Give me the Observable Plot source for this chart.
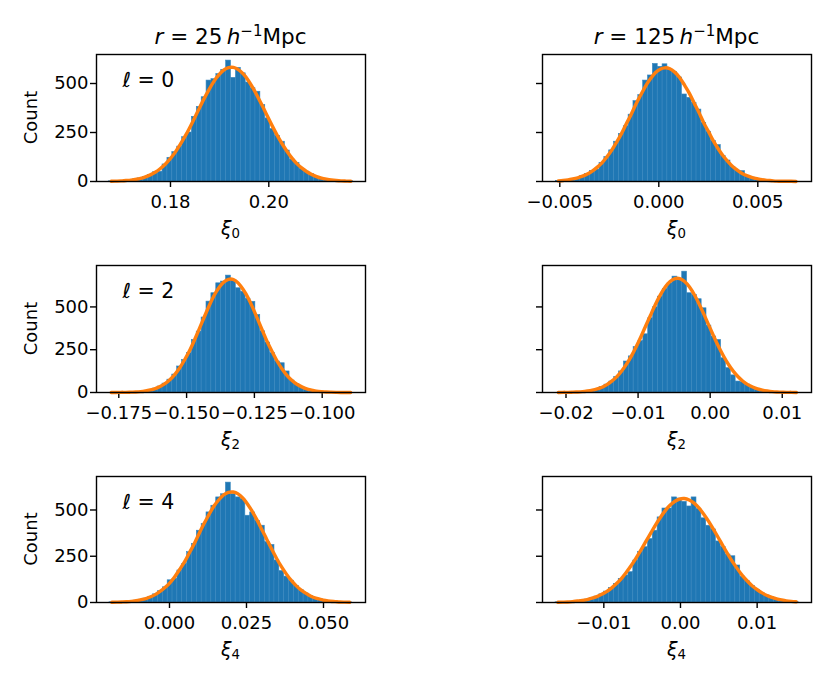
<!DOCTYPE html>
<html><head><meta charset="utf-8">
<script src="https://cdn.jsdelivr.net/npm/d3@7"></script>
<script src="https://cdn.jsdelivr.net/npm/@observablehq/plot@0.6"></script>
<style>
html,body{margin:0;padding:0;background:#fff;}
#wrap{position:relative;width:831px;height:687px;overflow:hidden;font-family:"DejaVu Sans",sans-serif;}
#wrap svg{position:absolute;left:0;top:0;}
#wrap g[aria-label$="tick"] path{stroke-width:1.4px;}
</style></head><body><div id="wrap"></div>
<script>
const W = 831, H = 687;

// column titles (separation r in h^-1 Mpc) and multipoles
const separations = ["25", "125"];
const multipoles = ["0", "2", "4"];
const yLabel = "Count";
const yTicks = [0, 250, 500];

// tick values per panel
const xTicks25_0 = [0.18, 0.20];
const xTicks125_0 = [-0.005, 0.000, 0.005];
const xTicks25_2 = [-0.175, -0.150, -0.125, -0.100];
const xTicks125_2 = [-0.02, -0.01, 0.00, 0.01];
const xTicks25_4 = [0.000, 0.025, 0.050];
const xTicks125_4 = [-0.01, 0.00, 0.01];

// histogram bins: first bin edge, bin width, counts (50 bins)
const binStart25_0 = 0.16744, binWidth25_0 = 0.000995;
const counts25_0 = [1,2,3,5,7,11,16,24,34,47,50,87,121,150,178,226,250,330,381,430,515,522,548,570,617,529,580,552,505,476,458,390,322,268,233,203,158,112,94,64,50,38,22,17,12,8,5,3,2,1];
const fit25_0 = [1,2,3,5,7,11,16,24,34,47,65,87,114,146,184,226,272,322,373,423,469,511,544,568,581,582,571,549,517,476,430,381,330,280,233,190,152,118,90,68,50,36,25,17,12,8,5,3,2,1];

const binStart125_0 = -0.0052, binWidth125_0 = 0.000245;
const counts125_0 = [3,5,8,13,19,27,38,53,61,95,125,159,203,243,282,341,410,441,515,541,600,585,598,575,558,531,444,427,401,367,299,254,206,186,130,107,75,56,53,29,20,14,9,6,4,2,1,1,1,0];
const fit125_0 = [3,5,8,13,19,27,38,53,72,95,125,159,200,243,293,341,394,441,487,524,555,573,580,575,558,531,493,451,401,352,299,253,206,166,130,101,75,56,40,29,20,14,9,6,4,2,1,1,1,0];

const binStart25_2 = -0.1787, binWidth25_2 = 0.001802;
const counts25_2 = [0,0,1,1,2,3,5,9,15,23,35,52,75,105,152,190,230,307,356,438,531,580,638,648,683,657,609,589,548,530,453,358,292,230,181,171,123,70,48,33,21,14,8,5,3,2,1,0,0,0];
const fit25_2 = [0,0,1,1,2,3,5,9,15,23,35,52,75,105,143,190,242,304,370,438,504,564,610,644,661,660,639,602,554,493,426,358,292,235,181,136,99,70,48,33,21,14,8,5,3,2,1,0,0,0];

const binStart125_2 = -0.0214, binWidth125_2 = 0.000674;
const counts125_2 = [0,1,1,2,3,5,9,14,21,31,46,64,91,123,181,211,265,300,340,434,498,560,605,638,677,660,706,580,570,545,492,391,327,307,200,142,100,64,60,46,32,21,14,9,5,3,2,1,1,0];
const fit125_2 = [0,1,1,2,3,5,9,14,21,31,46,66,91,124,164,211,266,326,390,453,515,570,616,648,665,665,648,616,571,516,455,391,327,267,213,165,125,92,66,46,32,21,14,9,5,3,2,1,1,0];

const binStart25_4 = -0.0195, binWidth25_4 = 0.001576;
const counts25_4 = [1,2,3,4,6,10,15,21,31,44,61,82,120,128,173,209,272,317,388,424,487,523,568,585,648,585,568,559,469,487,441,415,326,311,227,170,140,118,90,67,49,34,24,17,11,7,5,3,2,1];
const fit25_4 = [1,2,3,4,6,10,15,21,31,44,61,82,108,141,180,221,270,319,374,427,475,520,554,581,595,597,587,564,530,489,441,389,337,285,235,191,152,118,90,67,49,34,24,17,11,7,5,3,2,1];

const binStart125_4 = -0.0163, binWidth125_4 = 0.000634;
const counts125_4 = [1,2,3,5,8,11,16,23,32,44,59,78,101,128,146,164,227,272,299,343,388,460,508,508,568,562,544,519,568,505,455,415,395,330,300,259,250,200,140,115,89,69,52,38,28,20,14,9,6,4];
const fit125_4 = [1,2,3,5,8,11,16,23,32,44,59,78,101,128,161,197,237,280,326,371,416,457,494,524,546,559,562,554,537,511,477,438,395,350,304,259,217,179,144,115,89,69,52,38,28,20,14,9,6,4];

// layout (pixel frame of each panel)
const colBox = [[96, 365], [542, 811]];
const rowBox = [[54, 181], [265, 392], [476, 602]];

const panels = [
  {r:0,c:0, lo:binStart25_0, w:binWidth25_0, counts:counts25_0, fit:fit25_0, dom:[0.16495,0.21967], ticks:xTicks25_0, fmt:".2f", ymax:648},
  {r:0,c:1, lo:binStart125_0, w:binWidth125_0, counts:counts125_0, fit:fit125_0, dom:[-0.005874,0.007712], ticks:xTicks125_0, fmt:".3f", ymax:648},
  {r:1,c:0, lo:binStart25_2, w:binWidth25_2, counts:counts25_2, fit:fit25_2, dom:[-0.18322,-0.08403], ticks:xTicks25_2, fmt:".3f", ymax:742},
  {r:1,c:1, lo:binStart125_2, w:binWidth125_2, counts:counts125_2, fit:fit125_2, dom:[-0.02326,0.01406], ticks:xTicks125_2, fmt:".2f", ymax:742},
  {r:2,c:0, lo:binStart25_4, w:binWidth25_4, counts:counts25_4, fit:fit25_4, dom:[-0.0237,0.06364], ticks:xTicks25_4, fmt:".3f", ymax:681},
  {r:2,c:1, lo:binStart125_4, w:binWidth125_4, counts:counts125_4, fit:fit125_4, dom:[-0.018,0.01709], ticks:xTicks125_4, fmt:".2f", ymax:681}
];

const wrap = document.getElementById("wrap");
for (const p of panels) {
  const [L, R] = colBox[p.c], [T, B] = rowBox[p.r];
  const bins = p.counts.map((v, i) => ({x1: p.lo + i * p.w, x2: p.lo + (i + 1) * p.w, y0: 0, y: v}));
  const curve = p.fit.map((v, i) => ({x: p.lo + (i + 0.5) * p.w, y: v}));
  const chart = Plot.plot({
    width: W, height: H,
    marginLeft: L, marginRight: W - R, marginTop: T, marginBottom: H - B,
    style: {background: "transparent", fontFamily: "DejaVu Sans, sans-serif", fontSize: "18px", color: "black", overflow: "visible"},
    x: {domain: p.dom, ticks: p.ticks, tickFormat: d3.format(p.fmt), tickSize: 6, tickPadding: 8, label: null},
    y: {domain: [0, p.ymax], ticks: yTicks, tickFormat: p.c === 0 ? d3.format("d") : () => "", tickSize: 6, tickPadding: 2, label: null},
    marks: [
      Plot.rect(bins, {x1: "x1", x2: "x2", y1: "y0", y2: "y", fill: "#1f77b4", stroke: "#3a88bf", strokeWidth: 0.6}),
      Plot.line(curve, {x: "x", y: "y", stroke: "#ff7f0e", strokeWidth: 3.4, curve: "natural"}),
      Plot.frame({stroke: "black", strokeWidth: 1.4})
    ]
  });
  wrap.appendChild(chart);
}

// text overlay: titles, axis labels, multipole annotations
const ov = d3.select(wrap).append("svg").attr("width", W).attr("height", H)
  .style("font-family", "DejaVu Sans, sans-serif").style("white-space", "pre");

separations.forEach((s, c) => {
  const cx = (colBox[c][0] + colBox[c][1]) / 2;
  const t = ov.append("text").attr("x", cx).attr("y", 44).attr("text-anchor", "middle").attr("font-size", 21.5);
  t.append("tspan").attr("font-style", "italic").text("r");
  t.append("tspan").text(" = " + s + "\u2009");
  t.append("tspan").attr("font-style", "italic").text("h");
  t.append("tspan").attr("font-size", 15).attr("dy", -8).text("\u22121");
  t.append("tspan").attr("dy", 8).text("Mpc");
});

multipoles.forEach((m, r) => {
  const [T, B] = rowBox[r];
  ov.append("text").attr("transform", `translate(36.5,${(T + B) / 2}) rotate(-90)`)
    .attr("text-anchor", "middle").attr("font-size", 18).text(yLabel);
  const a = ov.append("text").attr("x", 122.5).attr("y", T + 33.3).attr("font-size", 20.5);
  a.append("tspan").attr("font-style", "italic").text("\u2113");
  a.append("tspan").text(" = " + m);
  colBox.forEach(([L, R]) => {
    const x = ov.append("text").attr("x", (L + R) / 2).attr("y", B + 53.5).attr("text-anchor", "middle").attr("font-size", 19);
    x.append("tspan").attr("font-style", "italic").text("\u03be");
    x.append("tspan").attr("font-size", 13.3).attr("dy", 3.5).text(m);
  });
});
</script></body></html>
